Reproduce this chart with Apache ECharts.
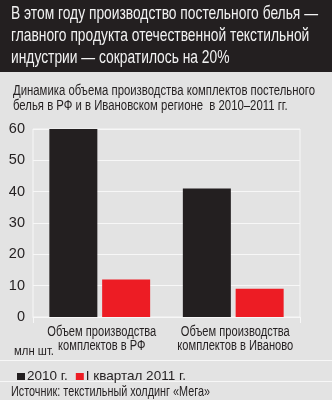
<!DOCTYPE html>
<html><head><meta charset="utf-8">
<script src="https://cdn.jsdelivr.net/npm/echarts@6/dist/echarts.min.js"></script>
<style>html,body{margin:0;padding:0;background:#e3e3e3}#c{width:332px;height:400px}</style>
</head><body><div id="c"></div>
<script>
const titleLines = ["В этом году производство постельного белья —","главного продукта отечественной текстильной","индустрии — сократилось на 20%"];
const subtitleLines = ["Динамика объема производства комплектов постельного","белья в РФ и в Ивановском регионе  в 2010–2011 гг."];
const categories = ["Объем производства\nкомплектов в РФ","Объем производства\nкомплектов в Иваново"];
const seriesNames = ["2010 г.","I квартал 2011 г."];
const values2010 = [60, 41];
const valuesQ1_2011 = [12, 9];
const yTicks = [0, 60, 10];
const unitLabel = "млн шт.";
const sourceText = "Источник: текстильный холдинг «Мега»";

const FONT = '"Liberation Sans",Arial,sans-serif';
const INK = '#231f20';
const LINE = '#f7f7f7';
const chart = echarts.init(document.getElementById('c'), null, {renderer:'canvas'});

const mctx = document.createElement('canvas').getContext('2d');
function tw(text, font){ mctx.font = font; return mctx.measureText(text).width; }
function condensedText(text, x, y, size, targetWidth, fill, align){
  const font = size + 'px ' + FONT;
  const s = targetWidth / tw(text, font);
  return {type:'text', x:x, y:y, scaleX:s, style:{text:text, font:font, fill:fill, textAlign:align||'left', textVerticalAlign:'middle'}};
}

const graphics = [
  {type:'rect', left:0, top:0, shape:{width:332,height:72}, style:{fill:INK}, z:0},
  {type:'line', shape:{x1:0,y1:360.5,x2:332,y2:360.5}, style:{stroke:LINE,lineWidth:1}},
  {type:'line', shape:{x1:0,y1:381.5,x2:332,y2:381.5}, style:{stroke:LINE,lineWidth:1}},
  condensedText(unitLabel, 14, 351.5, 13.5, 40, INK),
  condensedText(sourceText, 11, 391.5, 14.5, 199, INK)
];
// title lines share one horizontal scale, fitted on the first line
const TSIZE = 18.5;
const tScale = 307 / tw(titleLines[0], TSIZE + 'px ' + FONT);
const titleY = [14, 36, 58];
titleLines.forEach((t,i)=>graphics.push({type:'text', x:11, y:titleY[i], scaleX:tScale,
  style:{text:t, font:TSIZE+'px '+FONT, fill:'#f2f2f2', textVerticalAlign:'middle'}}));
const SSIZE = 14;
const sScale = 302 / tw(subtitleLines[0], SSIZE + 'px ' + FONT);
const subY = [91, 106.5];
subtitleLines.forEach((t,i)=>graphics.push({type:'text', x:13, y:subY[i], scaleX:sScale,
  style:{text:t, font:SSIZE+'px '+FONT, fill:INK, textVerticalAlign:'middle'}}));

chart.setOption({
  animation:false,
  backgroundColor:'#e3e3e3',
  textStyle:{fontFamily:FONT},
  graphic: graphics,
  grid:{left:33, right:32, top:129, bottom:83, show:true, borderColor:LINE, borderWidth:1, backgroundColor:'transparent'},
  legend:{left:12, top:364.5, itemWidth:8, itemHeight:7, itemGap:8, icon:'rect',
    textStyle:{fontSize:13.5, color:INK, fontFamily:FONT, padding:[0,0,0,-3]}, data:seriesNames},
  xAxis:{type:'category', data:categories,
    axisLine:{show:true, lineStyle:{color:LINE}},
    axisTick:{show:true, length:6, lineStyle:{color:LINE}},
    axisLabel:{show:false}},
  yAxis:{type:'value', min:yTicks[0], max:yTicks[1], interval:yTicks[2],
    axisLine:{show:false}, axisTick:{show:false},
    splitLine:{lineStyle:{color:LINE, width:1}},
    axisLabel:{fontSize:14.5, color:INK, margin:8, fontFamily:FONT}},
  series:[
    {name:seriesNames[0], type:'bar', data:values2010, barWidth:48, barGap:'10%', itemStyle:{color:INK}},
    {name:seriesNames[1], type:'bar', data:valuesQ1_2011, barWidth:48, itemStyle:{color:'#ed1c24'}}
  ]
});

// category labels, placed at the category centres given by the x axis scale
const CSIZE = 14;
const catGraphics = [];
categories.forEach((c, i)=>{
  const cx = chart.convertToPixel({xAxisIndex:0}, i) + 2;
  const lines = c.split('\n');
  const sc = 109 / tw(lines[0], CSIZE + 'px ' + FONT);
  lines.forEach((ln, j)=>{
    catGraphics.push({type:'text', x:cx, y:332 + j*13.7, scaleX:sc,
      style:{text:ln, font:CSIZE+'px '+FONT, fill:INK, textAlign:'center', textVerticalAlign:'middle'}});
  });
});
chart.setOption({graphic: graphics.concat(catGraphics)}, {replaceMerge:['graphic']});
</script></body></html>
